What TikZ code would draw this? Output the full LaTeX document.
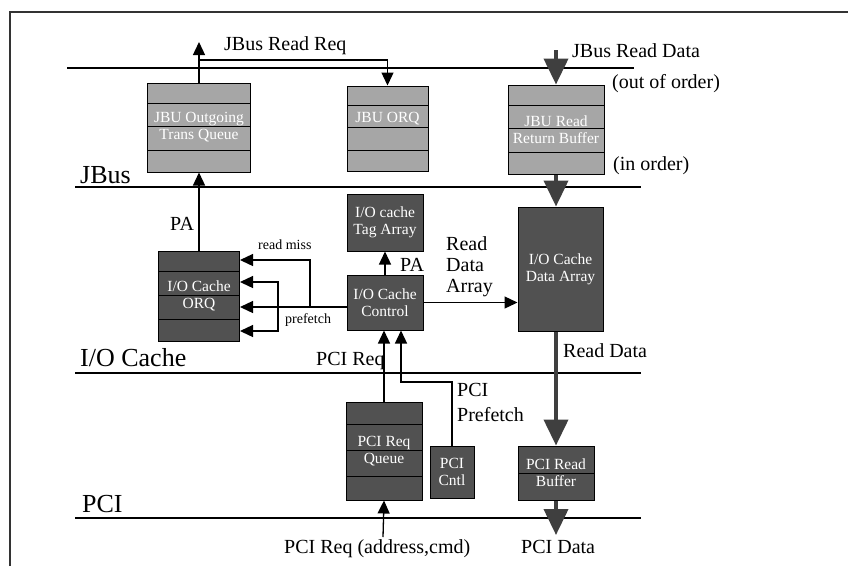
\documentclass[tikz,border=0pt]{standalone}
\usepackage{fontspec}
\setmainfont{Liberation Serif}
\usetikzlibrary{arrows.meta,calc}
\definecolor{boxlight}{HTML}{A6A6A6}
\definecolor{boxdark}{HTML}{515151}
\definecolor{arrowgray}{HTML}{3F3F3F}
\begin{document}
\begin{tikzpicture}[x=1pt, y=-1pt, >={Triangle[length=13pt,width=12pt]},
	font=\fontsize{20}{25}\selectfont,
	bus/.style={line width=1.4pt},
	buslbl/.style={anchor=base west, inner sep=0pt, font=\fontsize{26}{28}\selectfont},
	lbl/.style={anchor=base west, inner sep=0pt},
	small/.style={anchor=base west, inner sep=0pt, font=\fontsize{14}{15}\selectfont},
	box/.style={draw, line width=1pt, inner sep=1pt, align=center, text=white, font=\fontsize{15.5}{17}\selectfont},
	lightbox/.style={box, fill=boxlight},
	darkbox/.style={box, fill=boxdark},
	stripes/.style={path picture={\foreach \fr in {#1}
		\draw[line width=1pt] ($(path picture bounding box.north west)!\fr!(path picture bounding box.south west)$) -- ($(path picture bounding box.north east)!\fr!(path picture bounding box.south east)$);}},
	stripes/.default={0.23,0.49,0.76},
	sig/.style={line width=1.3pt, ->},
	fat/.style={line width=4pt, draw=arrowgray, -{Triangle[length=26pt,width=24pt]}}]
	\useasboundingbox (0,0) rectangle (848,566);
	\draw[line width=1.2pt, black!80] (10,566) -- (10,12) -- (848,12);
	
	% bus lines
	\draw[bus] (67,68) -- (634,68);
	\draw[bus] (75,187) -- (641,187);
	\draw[bus] (75,373) -- (641,373);
	\draw[bus] (75,518) -- (641,518);
	\node[buslbl] (jbus) at (80,183) {JBus};
	\node[buslbl] (iocache) at (80,366) {I/O Cache};
	\node[buslbl] (pci) at (82,512) {PCI};
	
	% boxes
	\node[lightbox, stripes, minimum width=103pt, minimum height=89pt] (outq) at (199,127.5) {JBU Outgoing\\Trans Queue};
	\node[lightbox, stripes, minimum width=81pt, minimum height=85pt] (jorq) at (387.5,128.5) {};
	\node[box, draw=none, inner sep=0pt] (jorqt) at ([yshift=10pt]jorq.center) {JBU ORQ};
	\node[lightbox, stripes, minimum width=96pt, minimum height=89pt] (rrb) at (556,129.5) {JBU Read\\Return Buffer};
	\node[darkbox, stripes, minimum width=81pt, minimum height=90pt] (corq) at (199,296) {I/O Cache\\ORQ};
	\node[darkbox, minimum width=76pt, minimum height=57pt] (tag) at (385,222.5) {I/O cache\\Tag Array};
	\node[darkbox, minimum width=76pt, minimum height=55pt] (ctl) at (385,302.5) {I/O Cache\\Control};
	\node[darkbox, minimum width=85pt, minimum height=124pt] (darr) at (560.5,269) {I/O Cache\\Data Array};
	\node[darkbox, stripes, minimum width=76pt, minimum height=98pt] (pq) at (384,451) {PCI Req\\Queue};
	\node[darkbox, minimum width=44pt, minimum height=52pt] (cntl) at (452,472) {PCI\\Cntl};
	\node[darkbox, stripes=0.5, minimum width=76pt, minimum height=54pt] (prb) at (556,473) {PCI Read\\Buffer};
	
	% labels
	\node[lbl] (jrq) at (224,50) {JBus Read Req};
	\node[lbl] (jrd) at (572,57) {JBus Read Data};
	\node[lbl] (ooo) at (612,88) {(out of order)};
	\node[lbl] (ino) at (613,170) {(in order)};
	\node[lbl] (pa1) at (170,230) {PA};
	\node[small] (rmiss) at (258,249) {read miss};
	\node[small] (pfl) at (285,323) {prefetch};
	\node[lbl] (pa2) at (400,271) {PA};
	\node[lbl, anchor=north west, align=left, font=\fontsize{20}{21}\selectfont] (rda) at (446,236) {Read\\Data\\Array};
	\node[lbl] (preq) at (316,365) {PCI Req};
	\node[lbl, anchor=north west, align=left] (ppf) at (457,383) {PCI\\Prefetch};
	\node[lbl] (rd) at (563,357) {Read Data};
	\node[lbl] (pcireq) at (284,553) {PCI Req (address,cmd)};
	\node[lbl] (pcid) at (521,553) {PCI Data};
	
	% connectors
	\coordinate (jrqtip) at (199,42);
	\coordinate (jrqk) at (199,60);
	\coordinate (jrdtail) at (556,50);
	\coordinate (rmk) at (310,307);
	\coordinate (rmt) at (310,260);
	\coordinate (pfk) at (278,307);
	\coordinate (pft) at (278,282);
	\coordinate (pfb) at (278,331);
	\coordinate (pfc) at (401,382);
	\coordinate (pdtip) at (556,535);
	\coordinate (prtail) at (383,537);
	\draw[sig] (outq.north) -- (jrqtip);
	\draw[sig] (jrqk) -| (jorq.north);
	\draw[fat] (jrdtail) -- (rrb.north);
	\draw[fat] (rrb.south) -- (rrb.south |- darr.north);
	\draw[sig] (corq.north) -- (outq.south);
	\draw[sig] (ctl.north) -- (tag.south);
	\draw[sig] (ctl.east) -- (ctl.east -| darr.west);
	\draw[sig] (ctl.west |- rmk) -- (corq.east |- rmk);
	\draw[sig] (rmk) -- (rmt) -- (rmt -| corq.east);
	\draw[sig] (pfk) -- (pft) -- (pft -| corq.east);
	\draw[sig] (pfk) -- (pfb) -- (pfb -| corq.east);
	\draw[sig] (pq.north) -- (pq.north |- ctl.south);
	\draw[sig] (cntl.north) |- (pfc) -- (pfc |- ctl.south);
	\draw[fat] (prb.north |- darr.south) -- (prb.north);
	\draw[fat] (prb.south) -- (pdtip);
	\draw[sig] (prtail) -- (pq.south);
\end{tikzpicture}
\end{document}
